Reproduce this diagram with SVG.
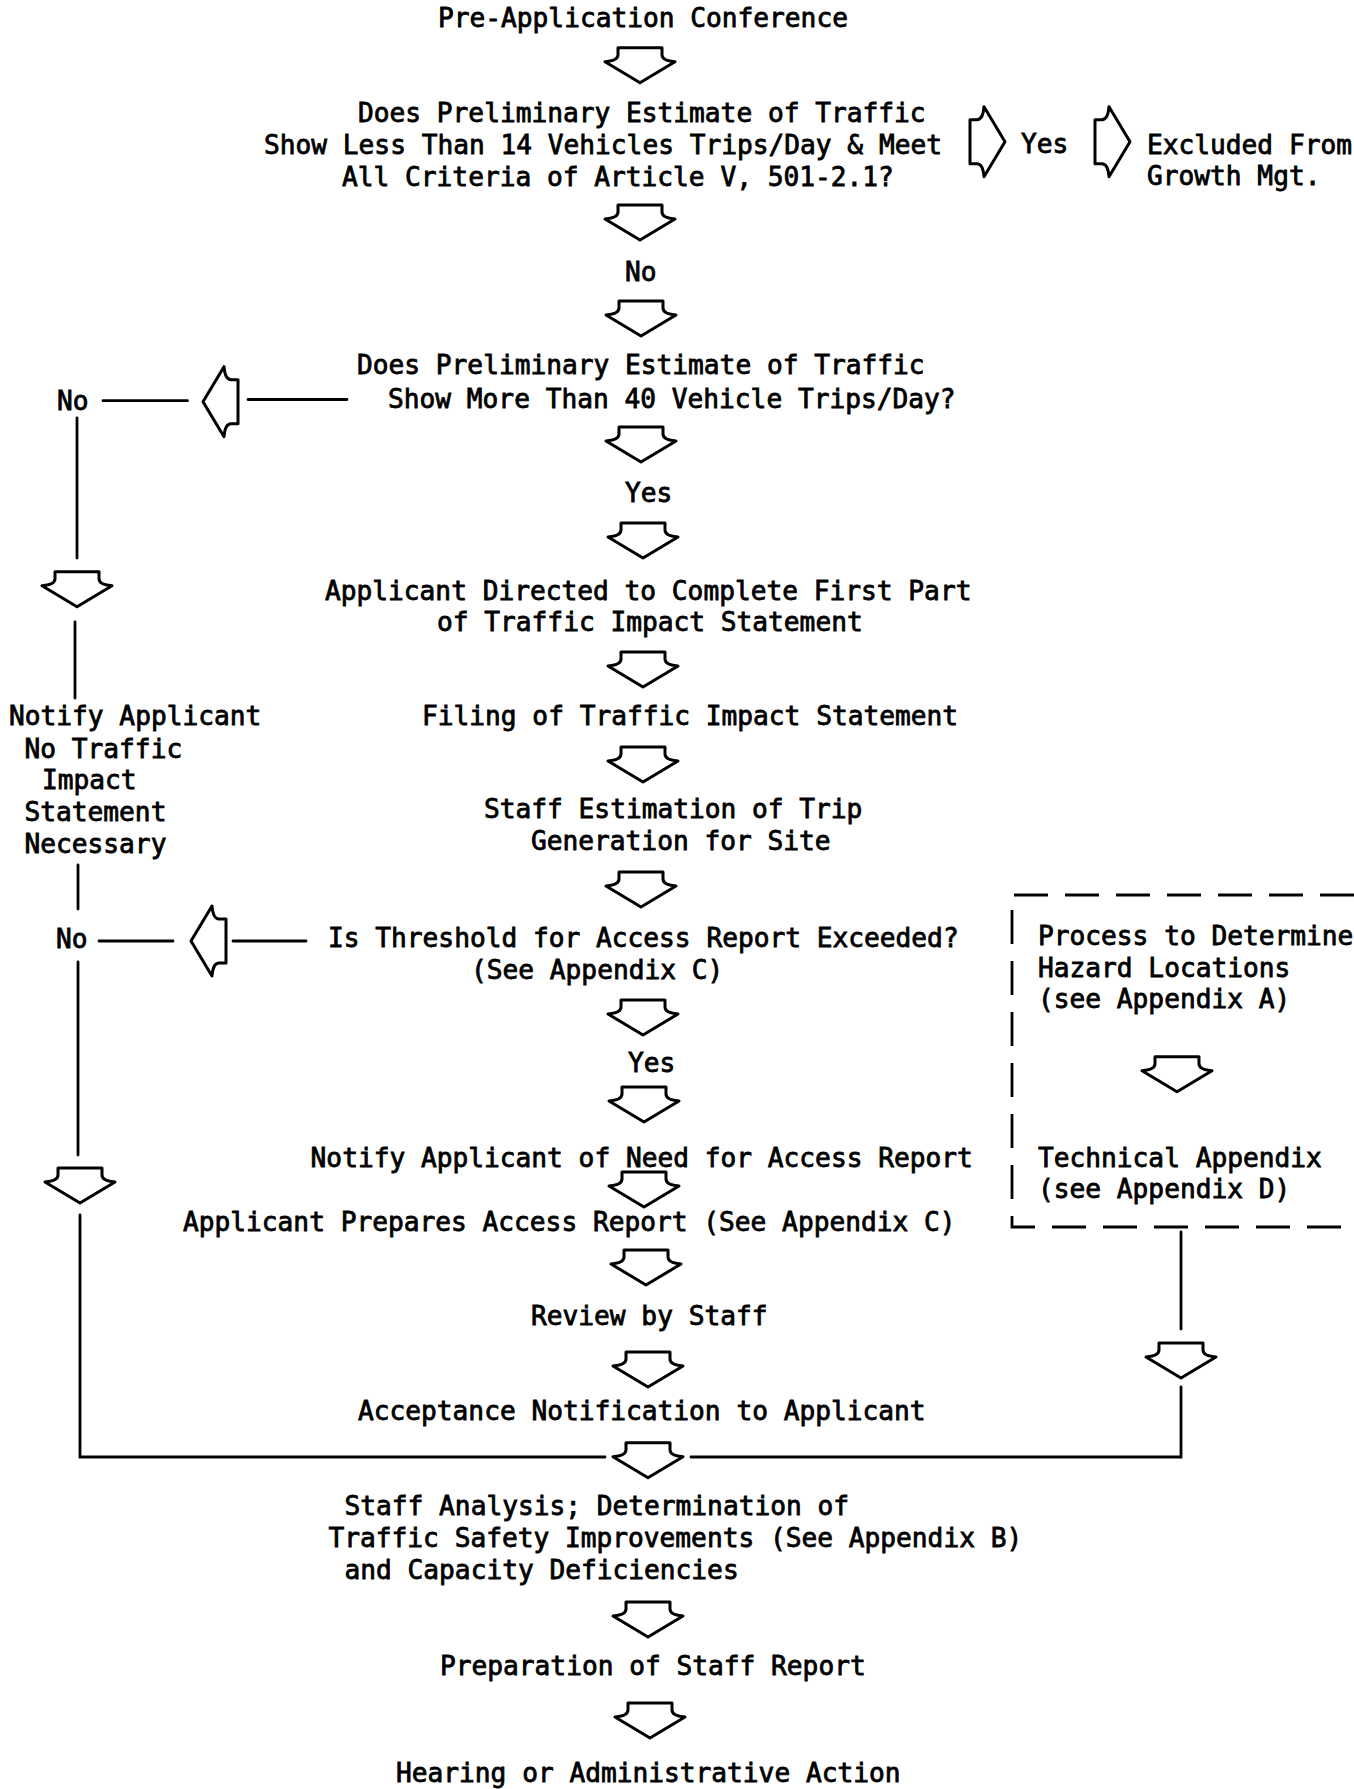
<svg xmlns="http://www.w3.org/2000/svg" xmlns:xlink="http://www.w3.org/1999/xlink" width="1354" height="1789" viewBox="0 0 1354 1789">
<style>
text{font-family:"DejaVu Sans Mono","Liberation Mono",monospace;font-size:26.2px;fill:#000;stroke:#000;stroke-width:0.8px}
.ln{stroke:#000;stroke-width:2.8;fill:none;stroke-linecap:round}
.arr{fill:#fff;stroke:#000;stroke-width:3;stroke-linejoin:round}
.dash{stroke:#000;stroke-width:2.8;fill:none;stroke-dasharray:34 17}
</style>
<defs>
<path id="ad" class="arr" d="M -22 -35 H 22 V -28 Q 22 -22 35 -21 L 0 0 L -35 -21 Q -22 -22 -22 -28 Z"/>
</defs>
<rect width="1354" height="1789" fill="#fff"/>
<g id="connectors">
<use xlink:href="#ad" href="#ad" transform="translate(640,82.7)"/>
<use xlink:href="#ad" href="#ad" transform="translate(640,240)"/>
<use xlink:href="#ad" href="#ad" transform="translate(641,336)"/>
<use xlink:href="#ad" href="#ad" transform="translate(641,462)"/>
<use xlink:href="#ad" href="#ad" transform="translate(643,558)"/>
<use xlink:href="#ad" href="#ad" transform="translate(643,687)"/>
<use xlink:href="#ad" href="#ad" transform="translate(643,782)"/>
<use xlink:href="#ad" href="#ad" transform="translate(641,907)"/>
<use xlink:href="#ad" href="#ad" transform="translate(643,1035)"/>
<use xlink:href="#ad" href="#ad" transform="translate(644,1122)"/>
<use xlink:href="#ad" href="#ad" transform="translate(644,1207)"/>
<use xlink:href="#ad" href="#ad" transform="translate(646,1285)"/>
<use xlink:href="#ad" href="#ad" transform="translate(648,1387)"/>
<use xlink:href="#ad" href="#ad" transform="translate(648,1477.7)"/>
<use xlink:href="#ad" href="#ad" transform="translate(648,1637)"/>
<use xlink:href="#ad" href="#ad" transform="translate(650,1738)"/>
<use xlink:href="#ad" href="#ad" transform="translate(77,606.7)"/>
<use xlink:href="#ad" href="#ad" transform="translate(80,1203)"/>
<use xlink:href="#ad" href="#ad" transform="translate(1177,1091.7)"/>
<use xlink:href="#ad" href="#ad" transform="translate(1181,1378)"/>
<use xlink:href="#ad" href="#ad" transform="translate(1005,141.7) rotate(-90)"/>
<use xlink:href="#ad" href="#ad" transform="translate(1130,141.7) rotate(-90)"/>
<use xlink:href="#ad" href="#ad" transform="translate(203,401.7) rotate(90)"/>
<use xlink:href="#ad" href="#ad" transform="translate(191,941) rotate(90)"/>
<path class="ln" d="M 103 400.7 H 187.5 M 248 399.5 H 347"/>
<path class="ln" d="M 77 418 V 558 M 75 622 V 698"/>
<path class="ln" d="M 78 865 V 909 M 99 941 H 173 M 233 941 H 306 M 78 962 V 1155"/>
<path class="ln" d="M 80 1215 V 1457 H 605 M 691 1457 H 1181 V 1387 M 1181 1329 V 1232"/>
<path class="dash" d="M 1354 895 H 1012 V 1227 H 1354"/>
</g>
<g id="n1"><text x="438" y="27">Pre-Application Conference</text></g>
<g id="n2"><text x="358" y="122">Does Preliminary Estimate of Traffic</text><text x="264" y="154">Show Less Than 14 Vehicles Trips/Day &amp; Meet</text><text x="342" y="186">All Criteria of Article V, 501-2.1?</text></g>
<g id="n3"><text x="1021" y="153">Yes</text></g>
<g id="n4"><text x="1147" y="154">Excluded From</text><text x="1147" y="185">Growth Mgt.</text></g>
<g id="n5"><text x="625" y="281">No</text></g>
<g id="n6"><text x="357" y="374">Does Preliminary Estimate of Traffic</text><text x="388" y="408">Show More Than 40 Vehicle Trips/Day?</text></g>
<g id="n7"><text x="57" y="410">No</text></g>
<g id="n8"><text x="625" y="502">Yes</text></g>
<g id="n9"><text x="325" y="600">Applicant Directed to Complete First Part</text><text x="437" y="631">of Traffic Impact Statement</text></g>
<g id="n10"><text x="422" y="725">Filing of Traffic Impact Statement</text></g>
<g id="n11"><text x="484" y="818">Staff Estimation of Trip</text><text x="531" y="850">Generation for Site</text></g>
<g id="n12"><text x="9" y="725">Notify Applicant</text><text x="24.5" y="758">No Traffic</text><text x="42" y="789">Impact</text><text x="24.5" y="821">Statement</text><text x="24.5" y="853">Necessary</text></g>
<g id="n13"><text x="56" y="948">No</text></g>
<g id="n14"><text x="328" y="947">Is Threshold for Access Report Exceeded?</text><text x="471" y="979">(See Appendix C)</text></g>
<g id="n15"><text x="628" y="1072">Yes</text></g>
<g id="n16"><text x="310.6" y="1167">Notify Applicant of Need for Access Report</text></g>
<g id="n17"><text x="183" y="1231">Applicant Prepares Access Report (See Appendix C)</text></g>
<g id="n18"><text x="531" y="1325">Review by Staff</text></g>
<g id="n19"><text x="358" y="1420">Acceptance Notification to Applicant</text></g>
<g id="n20"><text x="1038" y="945">Process to Determine</text><text x="1038" y="977">Hazard Locations</text><text x="1038" y="1008">(see Appendix A)</text><text x="1038" y="1167">Technical Appendix</text><text x="1038" y="1198">(see Appendix D)</text></g>
<g id="n21"><text x="344.5" y="1515">Staff Analysis; Determination of</text><text x="328.5" y="1547">Traffic Safety Improvements (See Appendix B)</text><text x="344.5" y="1579">and Capacity Deficiencies</text></g>
<g id="n22"><text x="440" y="1675">Preparation of Staff Report</text></g>
<g id="n23"><text x="396" y="1782">Hearing or Administrative Action</text></g>
</svg>
